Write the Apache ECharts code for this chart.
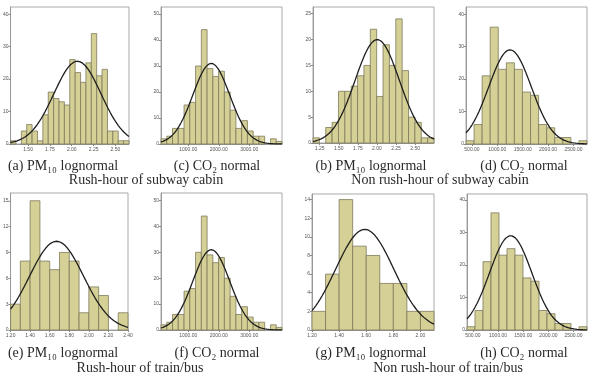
<!DOCTYPE html>
<html>
<head>
<meta charset="utf-8">
<script src="https://cdn.jsdelivr.net/npm/echarts@6/dist/echarts.min.js"></script>
<style>
  html, body { margin: 0; padding: 0; background: #fff; }
  #chart { width: 592px; height: 374px; }
</style>
</head>
<body>
<div id="chart"></div>
<script>
// bin counts (left to right)
const countsA = [1, 0, 4, 6, 4, 1, 9, 16, 14, 13, 12, 26, 22, 19, 25, 34, 21, 23, 4, 4, 1, 1];
const countsC = [2, 3, 6, 6, 15, 16, 30, 44, 29, 26, 28, 20, 13, 6, 9, 5, 3, 3, 0, 2, 1];
const countsB = [1, 0, 3, 4, 10, 10, 11, 13, 15, 22, 9, 19, 15, 24, 14, 5, 4, 1, 1];
const countsD = [1, 6, 21, 36, 23, 25, 23, 16, 15, 6, 5, 2, 2, 0, 1];
const countsE = [3, 8, 15, 8, 7, 9, 8, 2, 5, 4, 0, 2];
const countsF = [2, 3, 6, 6, 15, 16, 30, 44, 29, 26, 28, 20, 13, 6, 9, 5, 3, 3, 0, 2, 1];
const countsG = [2, 6, 14, 9, 8, 5, 5, 2, 2];
const countsH = [1, 6, 21, 36, 23, 25, 23, 16, 15, 6, 5, 2, 2, 0, 1];

// x extent of each plot [min, max]; bins split it evenly
const xRangeA = [1.30, 2.655];
const xRangeC = [105, 4074];
const xRangeB = [1.162, 2.748];
const xRangeD = [382, 2767];
const xRangeE = [1.20, 2.40];
const xRangeF = [105, 4074];
const xRangeG = [1.20, 2.10];
const xRangeH = [382, 2767];

// tick labels
const xTicksA = [1.50, 1.75, 2.00, 2.25, 2.50];
const xTicksC = [1000, 2000, 3000];
const xTicksB = [1.25, 1.50, 1.75, 2.00, 2.25, 2.50, 2.75];
const xTicksD = [500, 1000, 1500, 2000, 2500];
const xTicksE = [1.20, 1.40, 1.60, 1.80, 2.00, 2.20, 2.40];
const xTicksF = [1000, 2000, 3000];
const xTicksG = [1.20, 1.40, 1.60, 1.80, 2.00];
const xTicksH = [500, 1000, 1500, 2000, 2500];

const yTicksA = [0, 10, 20, 30, 40];
const yTicksC = [0, 10, 20, 30, 40, 50];
const yTicksB = [0, 5, 10, 15, 20, 25];
const yTicksD = [0, 10, 20, 30, 40];
const yTicksE = [0, 3, 6, 9, 12, 15];
const yTicksF = [0, 10, 20, 30, 40, 50];
const yTicksG = [0, 2, 4, 6, 8, 10, 12, 14];
const yTicksH = [0, 10, 20, 30, 40];
const yMax = [42.2, 52.7, 26.3, 42.2, 15.9, 52.9, 14.6, 41.8];

// normal fit: [mean, sd, peak height]
const fitA = [2.065, 0.27, 25.5];
const fitC = [1754, 607, 31];
const fitB = [2.004, 0.29, 20];
const fitD = [1250, 420, 29];
const fitE = [1.67, 0.276, 10.3];
const fitF = [1754, 607, 31];
const fitG = [1.589, 0.214, 10.8];
const fitH = [1250, 420, 29];

const captions = ['(a) PM₁₀ lognormal', '(c) CO₂ normal', '(b) PM₁₀ lognormal', '(d) CO₂ normal',
                  '(e) PM₁₀ lognormal', '(f) CO₂ normal', '(g) PM₁₀ lognormal', '(h) CO₂ normal'];
const groupTitles = ['Rush-hour of subway cabin', 'Non rush-hour of subway cabin',
                     'Rush-hour of train/bus', 'Non rush-hour of train/bus'];

const panels = [
    {counts: countsA, range: xRangeA, xt: xTicksA, yt: yTicksA, fit: fitA},
    {counts: countsC, range: xRangeC, xt: xTicksC, yt: yTicksC, fit: fitC},
    {counts: countsB, range: xRangeB, xt: xTicksB, yt: yTicksB, fit: fitB},
    {counts: countsD, range: xRangeD, xt: xTicksD, yt: yTicksD, fit: fitD},
    {counts: countsE, range: xRangeE, xt: xTicksE, yt: yTicksE, fit: fitE},
    {counts: countsF, range: xRangeF, xt: xTicksF, yt: yTicksF, fit: fitF},
    {counts: countsG, range: xRangeG, xt: xTicksG, yt: yTicksG, fit: fitG},
    {counts: countsH, range: xRangeH, xt: xTicksH, yt: yTicksH, fit: fitH}
];

const gridBoxes = [
    {left: 7, top: 7, width: 122, height: 137},
    {left: 161, top: 7, width: 121, height: 137},
    {left: 313, top: 7, width: 121, height: 136},
    {left: 466, top: 7, width: 121, height: 137},
    {left: 7, top: 193, width: 121, height: 137},
    {left: 161, top: 193, width: 121, height: 137},
    {left: 312, top: 194, width: 122, height: 136},
    {left: 467, top: 194, width: 120, height: 136}
];

function renderBin(params, api) {
    if (!api.value(2)) return null;
    const lo = api.coord([api.value(0), api.value(2)]);
    const hi = api.coord([api.value(1), 0]);
    return {
        type: 'rect',
        shape: {x: lo[0], y: lo[1], width: hi[0] - lo[0], height: hi[1] - lo[1]},
        style: {fill: '#d5d096', stroke: '#7d7a5c', lineWidth: 0.8}
    };
}

const tinyLabel = {fontSize: 5, color: '#555', fontFamily: 'Liberation Sans'};

const grid = [], xAxis = [], yAxis = [], series = [];
panels.forEach((p, i) => {
    const [x0, x1] = p.range;
    const w = (x1 - x0) / p.counts.length;
    grid.push(Object.assign({show: true, borderColor: '#a9a9a9', borderWidth: 1, backgroundColor: '#fff'}, gridBoxes[i]));
    xAxis.push({
        type: 'value', gridIndex: i, min: x0, max: x1,
        splitLine: {show: false},
        axisLine: {lineStyle: {color: '#999'}},
        axisTick: {customValues: p.xt, length: 2, lineStyle: {color: '#888'}},
        axisLabel: Object.assign({customValues: p.xt, margin: 3, formatter: v => v.toFixed(2)}, tinyLabel)
    });
    yAxis.push({
        type: 'value', gridIndex: i, min: 0, max: yMax[i],
        splitLine: {show: false},
        axisLine: {show: true, lineStyle: {color: '#999'}},
        axisTick: {show: true, customValues: p.yt, length: 2, lineStyle: {color: '#888'}},
        axisLabel: Object.assign({customValues: p.yt, margin: 2}, tinyLabel)
    });
    series.push({
        type: 'custom', xAxisIndex: i, yAxisIndex: i,
        renderItem: renderBin,
        encode: {x: [0, 1], y: 2},
        data: p.counts.map((c, k) => [x0 + k * w, x0 + (k + 1) * w, c])
    });
    // fitted normal curve
    const [mu, sd, peak] = p.fit;
    const pts = [];
    for (let k = 0; k <= 120; k++) {
        const x = x0 + (x1 - x0) * k / 120;
        pts.push([x, peak * Math.exp(-((x - mu) * (x - mu)) / (2 * sd * sd))]);
    }
    series.push({
        type: 'line', xAxisIndex: i, yAxisIndex: i, data: pts,
        showSymbol: false, silent: true, z: 5,
        lineStyle: {color: '#1e1e1e', width: 1.3}
    });
});

const capX = [63, 217, 371, 524];
const capStyle = {fill: '#2a2a2a', font: '14px "Liberation Serif", "DejaVu Serif", serif', align: 'center', verticalAlign: 'middle'};
const graphic = [];
captions.forEach((t, i) => {
    graphic.push({type: 'text', style: Object.assign({text: t, x: capX[i % 4], y: i < 4 ? 166 : 353}, capStyle)});
});
const titleX = [146, 440, 140, 448];
groupTitles.forEach((t, i) => {
    graphic.push({type: 'text', style: Object.assign({text: t, x: titleX[i], y: i < 2 ? 180 : 368}, capStyle)});
});

const chart = echarts.init(document.getElementById('chart'));
chart.setOption({
    animation: false,
    backgroundColor: '#fff',
    grid: grid,
    xAxis: xAxis,
    yAxis: yAxis,
    series: series,
    graphic: graphic
});
</script>
</body>
</html>
